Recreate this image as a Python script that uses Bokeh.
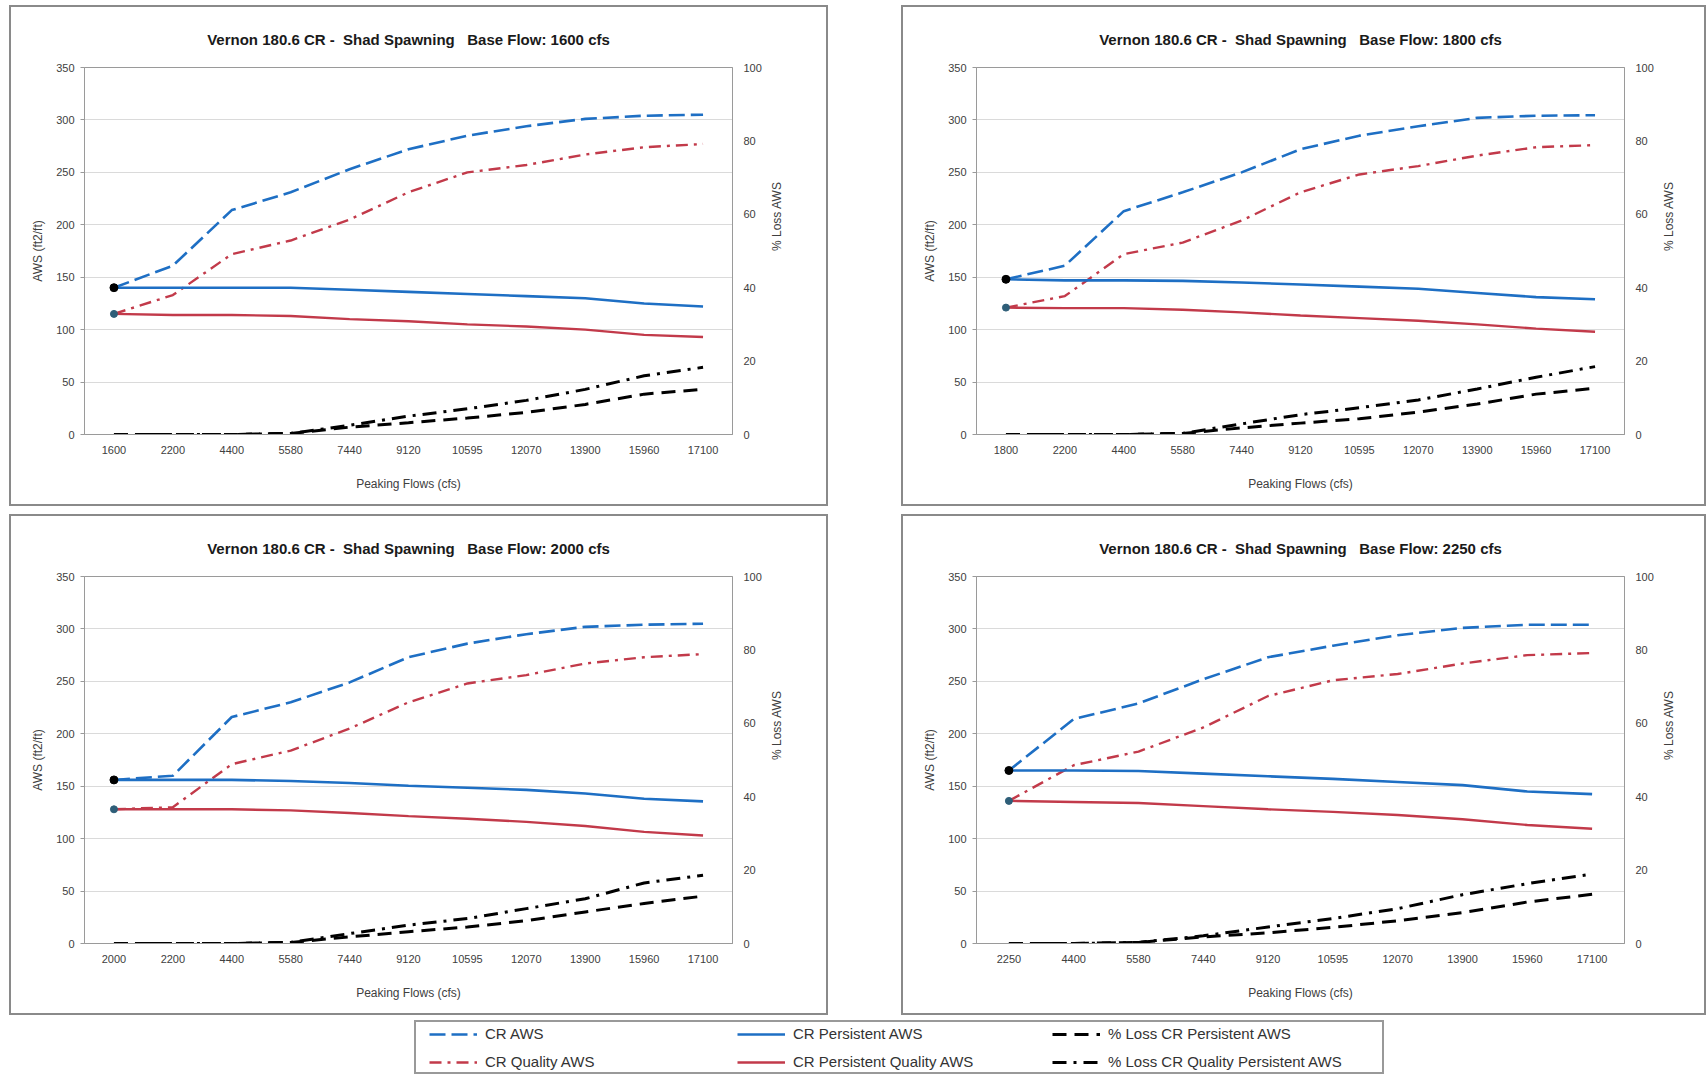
import math
from bokeh.plotting import figure
from bokeh.models import (Range1d, LinearAxis, FactorRange, FixedTicker, CategoricalAxis,
                          Legend, LegendItem, ColumnDataSource, Spacer, Grid)
from bokeh.layouts import row, column
from bokeh.embed import file_html
from bokeh.resources import INLINE

# ---------------- data ----------------
cats_1600 = ["1600", "2200", "4400", "5580", "7440", "9120", "10595", "12070", "13900", "15960", "17100"]
cr_aws_1600 = [140, 161, 214, 231, 253, 272, 285, 294, 301, 304, 305]
cr_q_1600 = [115, 133, 172, 185, 205, 231, 250, 257, 267, 274, 277]
cr_p_1600 = [140, 140, 140, 140, 138, 136, 134, 132, 130, 125, 122]
cr_pq_1600 = [115, 114, 114, 113, 110, 108, 105, 103, 100, 95, 93]
loss_p_1600 = [0, 0, 0, 0.3, 2.0, 3.2, 4.5, 6.0, 8.2, 11.0, 12.3]
loss_q_1600 = [0, 0, 0, 0.3, 2.5, 5.0, 7.0, 9.3, 12.3, 16.0, 18.3]

cats_1800 = ["1800", "2200", "4400", "5580", "7440", "9120", "10595", "12070", "13900", "15960", "17100"]
cr_aws_1800 = [148, 161, 213, 231, 250, 272, 285, 294, 302, 304, 304.5]
cr_q_1800 = [121, 132, 172, 183, 204, 231, 248, 256, 266, 274, 276]
cr_p_1800 = [148, 147, 147, 146.5, 145, 143, 141, 139, 135, 131, 129]
cr_pq_1800 = [121, 120.5, 120.5, 119, 116.5, 113.5, 111, 108.5, 105, 101, 98]
loss_p_1800 = [0, 0, 0, 0.3, 1.8, 3.1, 4.3, 6.1, 8.3, 11.0, 12.6]
loss_q_1800 = [0, 0, 0, 0.3, 2.9, 5.4, 7.3, 9.4, 12.4, 15.6, 18.5]

cats_2000 = ["2000", "2200", "4400", "5580", "7440", "9120", "10595", "12070", "13900", "15960", "17100"]
cr_aws_2000 = [156, 160, 216, 230, 249, 273, 286, 295, 302, 304, 305]
cr_q_2000 = [128, 130, 171, 184, 205, 230, 248, 256, 267, 273, 276]
cr_p_2000 = [156, 156, 156, 155, 153, 150.5, 148.5, 146.5, 143, 138, 135.5]
cr_pq_2000 = [128, 128, 128, 127, 124.5, 121.5, 119, 116, 112, 106.5, 103]
loss_p_2000 = [0, 0, 0, 0.3, 1.8, 3.2, 4.5, 6.2, 8.6, 10.9, 12.9]
loss_q_2000 = [0, 0, 0, 0.3, 2.7, 5.0, 6.8, 9.5, 12.2, 16.5, 18.6]

cats_2250 = ["2250", "4400", "5580", "7440", "9120", "10595", "12070", "13900", "15960", "17100"]
cr_aws_2250 = [165, 214, 229, 252, 273, 284, 294, 301, 304, 304]
cr_q_2250 = [136, 170, 183, 206, 236, 251, 257, 267, 275, 277]
cr_p_2250 = [165, 165, 164.5, 162, 159.5, 157, 154, 151, 145, 142.5]
cr_pq_2250 = [136, 135, 134, 131, 128, 125.5, 122.5, 118.5, 113, 109.5]
loss_p_2250 = [0, 0, 0.3, 1.8, 2.9, 4.4, 6.2, 8.4, 11.3, 13.4]
loss_q_2250 = [0, 0, 0.3, 2.1, 4.5, 6.8, 9.5, 13.3, 16.3, 18.9]

left_ticks = [0, 50, 100, 150, 200, 250, 300, 350]
right_ticks = [0, 20, 40, 60, 80, 100]

series_names = ["CR AWS", "CR Quality AWS", "CR Persistent AWS", "CR Persistent Quality AWS",
                "% Loss CR Persistent AWS", "% Loss CR Quality Persistent AWS"]

# ---------------- style ----------------
BLUE = "#1E6FC4"
RED = "#C23A4A"
FONT = "Liberation Sans"
TICK_COLOR = "#404040"
AXIS_GRAY = "#9a9a9a"
GRID_GRAY = "#dadada"
BW = 2                       # panel border width
PANEL_H = 501                # outer panel height (incl. border)
FRAME_W = 648
WRAP_STYLE = {"border": "%dpx solid #8a8a8a" % BW, "background-color": "white"}

STY = dict(
    aws=dict(color=BLUE, line_width=2.6, line_dash="16 6"),
    q=dict(color=RED, line_width=2.4, line_dash="12 6 3 6"),
    p=dict(color=BLUE, line_width=2.6),
    pq=dict(color=RED, line_width=2.4),
    lp=dict(color="black", line_width=3, line_dash="14 8"),
    lq=dict(color="black", line_width=3, line_dash="14 7 3 7"),
)


def style_axis(ax):
    ax.major_label_text_font = FONT
    ax.major_label_text_font_size = "11px"
    ax.major_label_text_color = TICK_COLOR
    ax.axis_label_text_font = FONT
    ax.axis_label_text_font_size = "12px"
    ax.axis_label_text_font_style = "normal"
    ax.axis_label_text_color = "#404040"
    ax.axis_line_color = AXIS_GRAY
    ax.major_tick_line_color = AXIS_GRAY
    ax.minor_tick_line_color = None


def make_panel(base, cats, aws, q, pers, pq, lp, lq, outer_w):
    w = outer_w - 2 * BW
    h = PANEL_H - 2 * BW
    ml = 75 - BW
    p = figure(width=w, height=h,
               x_range=FactorRange(factors=cats), y_range=Range1d(0, 350),
               x_axis_location=None, y_axis_location=None,
               output_backend="svg", toolbar_location=None,
               min_border_left=ml, min_border_right=w - ml - FRAME_W,
               min_border_top=62 - BW, min_border_bottom=72 - BW)
    p.extra_y_ranges = {"pct": Range1d(0, 100)}
    p.xgrid.visible = False
    p.ygrid.visible = False
    p.outline_line_color = AXIS_GRAY
    p.background_fill_color = "white"
    p.border_fill_color = "white"

    p.title.text = "Vernon 180.6 CR -\u00a0 Shad Spawning \u00a0 Base Flow: %s cfs" % base
    p.title.align = "center"
    p.title.offset = 10
    p.title.text_font = FONT
    p.title.text_font_size = "15px"
    p.title.text_font_style = "bold"
    p.title.text_color = "#1a1a1a"
    p.title.standoff = 40

    left = LinearAxis(ticker=FixedTicker(ticks=left_ticks), axis_label="AWS (ft2/ft)")
    style_axis(left)
    left.major_tick_out = 4
    left.major_tick_in = 0
    left.major_label_standoff = 6
    left.axis_label_standoff = 8
    p.add_layout(left, "left")

    right = LinearAxis(y_range_name="pct", ticker=FixedTicker(ticks=right_ticks), axis_label="% Loss AWS")
    style_axis(right)
    right.major_tick_out = 0
    right.major_tick_in = 0
    right.major_label_standoff = 11
    right.axis_label_standoff = 12
    try:
        right.axis_label_orientation = math.pi / 2
    except Exception:
        pass
    p.add_layout(right, "right")

    cat_ax = CategoricalAxis(axis_label="Peaking Flows (cfs)")
    style_axis(cat_ax)
    cat_ax.major_tick_line_color = None
    cat_ax.major_label_standoff = 5
    cat_ax.axis_label_standoff = 20
    p.add_layout(cat_ax, "below")

    p.add_layout(Grid(dimension=1, ticker=left.ticker, grid_line_color=GRID_GRAY, grid_line_width=1))

    src = ColumnDataSource(dict(x=cats, aws=aws, q=q, p=pers, pq=pq, lp=lp, lq=lq))
    p.line("x", "aws", source=src, **STY["aws"])
    p.line("x", "q", source=src, **STY["q"])
    p.line("x", "p", source=src, **STY["p"])
    p.line("x", "pq", source=src, **STY["pq"])
    p.line("x", "lp", source=src, y_range_name="pct", **STY["lp"])
    p.line("x", "lq", source=src, y_range_name="pct", **STY["lq"])
    p.scatter(x=[cats[0]], y=[aws[0]], size=8, color="black")
    p.scatter(x=[cats[0]], y=[q[0]], size=7, color="#2E5E78")
    return column(p, styles=WRAP_STYLE)


P1 = make_panel("1600", cats_1600, cr_aws_1600, cr_q_1600, cr_p_1600, cr_pq_1600, loss_p_1600, loss_q_1600, 819)
P2 = make_panel("1800", cats_1800, cr_aws_1800, cr_q_1800, cr_p_1800, cr_pq_1800, loss_p_1800, loss_q_1800, 805)
P3 = make_panel("2000", cats_2000, cr_aws_2000, cr_q_2000, cr_p_2000, cr_pq_2000, loss_p_2000, loss_q_2000, 819)
P4 = make_panel("2250", cats_2250, cr_aws_2250, cr_q_2250, cr_p_2250, cr_pq_2250, loss_p_2250, loss_q_2250, 805)

# ---------------- legend ----------------
LW, LH = 970 - 2 * BW, 54 - 2 * BW
lg = figure(width=LW, height=LH, x_range=FactorRange(factors=cats_1600), y_range=Range1d(-20, -10),
            output_backend="svg", toolbar_location=None, min_border=0,
            x_axis_location=None, y_axis_location=None)
lg.xgrid.visible = False
lg.ygrid.visible = False
lg.outline_line_color = None
keys = ["aws", "q", "p", "pq", "lp", "lq"]
lsrc = ColumnDataSource(dict(x=cats_1600, aws=cr_aws_1600, q=cr_q_1600, p=cr_p_1600,
                             pq=cr_pq_1600, lp=loss_p_1600, lq=loss_q_1600))
rends = {k: lg.line("x", k, source=lsrc, **STY[k]) for k in keys}

col_x = [13, 321, 636]
groups = [("aws", "q"), ("p", "pq"), ("lp", "lq")]
for cx, (a, b) in zip(col_x, groups):
    items = [LegendItem(label=series_names[keys.index(a)], renderers=[rends[a]]),
             LegendItem(label=series_names[keys.index(b)], renderers=[rends[b]])]
    leg = Legend(items=items, location=(cx, 2), orientation="vertical",
                 border_line_color=None, background_fill_alpha=0,
                 padding=0, margin=0, spacing=11,
                 glyph_width=48, glyph_height=16, label_height=16,
                 label_standoff=8, label_text_font=FONT, label_text_font_size="15px",
                 label_text_color="#333333")
    lg.add_layout(leg, "center")
LG = column(lg, styles={"border": "%dpx solid #999999" % BW, "background-color": "white"})

layout = column(
    Spacer(height=5),
    row(Spacer(width=9), P1, Spacer(width=73), P2),
    Spacer(height=8),
    row(Spacer(width=9), P3, Spacer(width=73), P4),
    Spacer(height=5),
    row(Spacer(width=414), LG),
)

open("out.html", "w").write(file_html(layout, INLINE))
